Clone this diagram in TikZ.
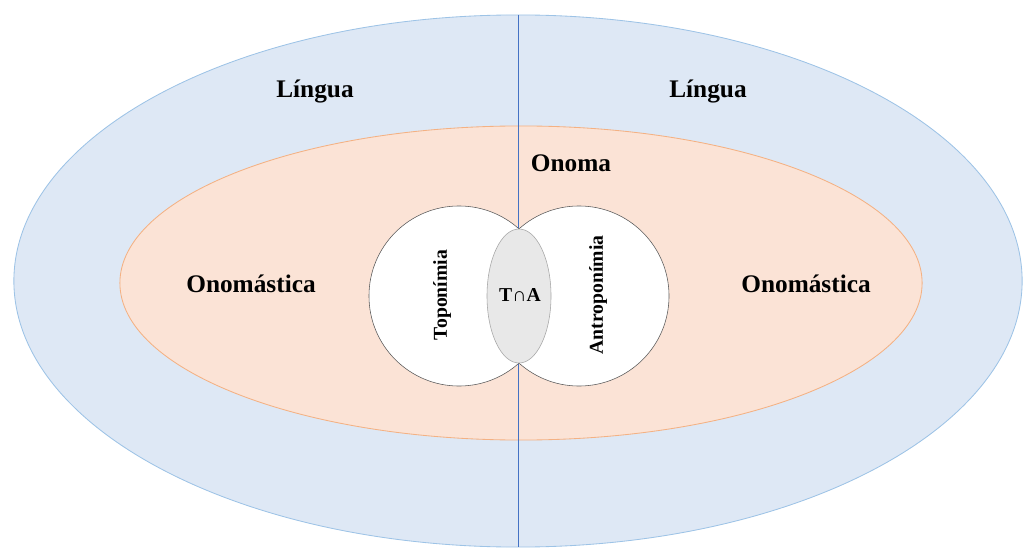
\documentclass[tikz,border=0pt]{standalone}
\usepackage{fontspec}
\setmainfont{Liberation Serif}
\usetikzlibrary{shapes.geometric}

\definecolor{linguafill}{HTML}{DEE8F5}
\definecolor{linguadraw}{HTML}{9DC3E6}
\definecolor{onomafill}{HTML}{FBE3D6}
\definecolor{onomadraw}{HTML}{F4B183}
\definecolor{divblue}{HTML}{4472C4}
\definecolor{lensfill}{HTML}{E8E8E8}

\begin{document}
\begin{tikzpicture}[x=0.025cm, y=0.025cm,
    area/.style={ellipse, draw, semithick, inner sep=0pt},
    field/.style={circle, draw=black!65, fill=white, inner sep=0pt, minimum size=4.5cm},
    big/.style={font=\fontsize{18}{20}\selectfont\bfseries},
    small/.style={font=\fontsize{14}{16}\selectfont\bfseries}]
    \useasboundingbox (0, 0) rectangle (1023, 547);

    \node[area, fill=linguafill, draw=linguadraw, minimum width=25.2cm, minimum height=13.3cm] (lingua) at (518, 266) {};
    \node[area, fill=onomafill, draw=onomadraw, minimum width=20.05cm, minimum height=7.85cm] (onoma) at (521, 264) {};

    \draw[divblue, semithick] (lingua.north)
    -- (lingua.south);

    \node[field] (topo) at (459, 251) {};
    \node[field] (antro) at (579, 251) {};
    \node[area, thin, fill=lensfill, draw=black!35, minimum width=1.6cm, minimum height=3.35cm] (lens) at (519, 251) {};

    \node[big] (l1) at (315, 455) {Língua};
    \node[big] (l2) at (708, 455) {Língua};
    \node[big] (on) at (571, 384) {Onoma};
    \node[big] (o1) at (251, 263) {Onomástica};
    \node[big] (o2) at (806, 263) {Onomástica};

    \node[small, rotate=90] (t) at (442, 252) {Toponímia};
    \node[small, rotate=90] (a) at (598, 252) {Antroponímia};
    \node[small] (ta) at (520, 252) {T{\mdseries ∩}A};

  \end{tikzpicture}
\end{document}
